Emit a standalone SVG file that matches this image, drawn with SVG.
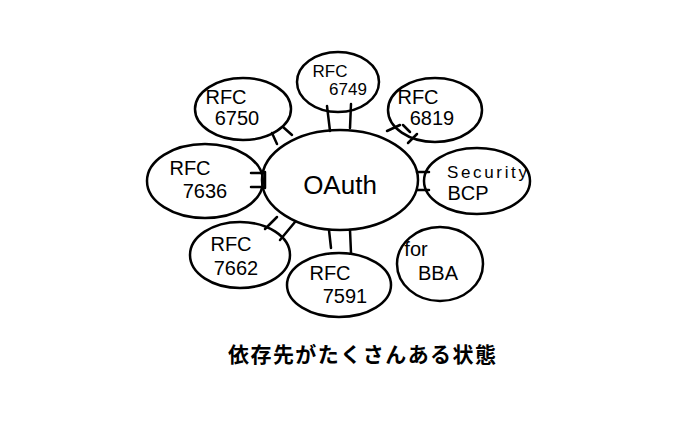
<svg xmlns="http://www.w3.org/2000/svg" width="678" height="447" viewBox="0 0 678 447">
<style>
.n{fill:none;stroke:#000;stroke-width:2.5}
.c{stroke:#000;stroke-width:2.5;fill:none;stroke-linecap:round}
.t{font-family:"Liberation Sans","Noto Sans",sans-serif;font-size:17px;fill:#000;text-anchor:middle}
.m{font-size:20px}
.big{font-size:26px}
.jp{font-family:"Noto Sans CJK JP","Noto Sans",sans-serif;font-size:21px;fill:#000;font-weight:bold}
</style>
<rect width="678" height="447" fill="#fff"/>
<g id="connectors">
<path class="c" d="M327 106 L330 131 M351 104 L350 128"/>
<path class="c" d="M272 133 L277 144 M283 127 L292 135"/>
<path class="c" d="M387 131 L400 125 M403 125 L410 132 M408 143 L417 134"/>
<path class="c" d="M417 172 L429 172 M417 190 L429 190"/>
<path class="c" d="M251 173 L265 173 M251 187 L265 187 M265 172 L265 188"/>
<path class="c" d="M265 229 L277 217 M280 240 L295 222"/>
<path class="c" d="M329 230 L331 248 M350 230 L351 253"/>
</g>
<g id="oauth"><ellipse class="n" cx="340" cy="180" rx="78" ry="50"/><text class="t big" x="340" y="194">OAuth</text></g>
<g id="rfc6749"><ellipse class="n" cx="338" cy="82" rx="41" ry="30"/><text class="t" x="330" y="77">RFC</text><text class="t" x="348" y="95">6749</text></g>
<g id="rfc6750"><ellipse class="n" cx="243" cy="109" rx="48" ry="31"/><text class="t m" x="226" y="104">RFC</text><text class="t m" x="237" y="125">6750</text></g>
<g id="rfc6819"><ellipse class="n" cx="435" cy="110" rx="47" ry="32"/><text class="t m" x="418" y="104">RFC</text><text class="t m" x="432" y="125">6819</text></g>
<g id="securitybcp"><ellipse class="n" cx="477" cy="181" rx="53" ry="33"/><text class="t" x="487" y="178" textLength="80">Security</text><text class="t m" x="468" y="200">BCP</text></g>
<g id="rfc7636"><ellipse class="n" cx="205" cy="181" rx="58" ry="37"/><text class="t m" x="190" y="175">RFC</text><text class="t m" x="205" y="198">7636</text></g>
<g id="rfc7662"><ellipse class="n" cx="240" cy="255" rx="50" ry="33"/><text class="t m" x="231" y="251">RFC</text><text class="t m" x="236" y="275">7662</text></g>
<g id="rfc7591"><ellipse class="n" cx="339" cy="285" rx="52" ry="32"/><text class="t m" x="330" y="280">RFC</text><text class="t m" x="345" y="303">7591</text></g>
<g id="forbba"><ellipse class="n" cx="440" cy="264" rx="43" ry="37"/><text class="t m" x="416" y="256">for</text><text class="t m" x="438" y="280">BBA</text></g>
<text class="jp" x="228" y="362" textLength="268">依存先がたくさんある状態</text>
</svg>
